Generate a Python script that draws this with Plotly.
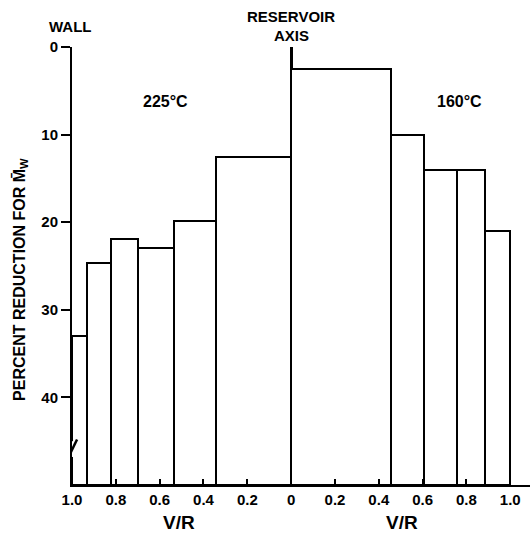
import plotly.graph_objects as go

# Data (V/R bin edges and percent reduction for Mw)
left_edges = [1.0, 0.933, 0.824, 0.697, 0.533, 0.344, 0.0]   # 225 °C side (toward wall)
left_values = [33.0, 24.7, 21.9, 22.9, 19.9, 12.5]
right_edges = [0.0, 0.455, 0.604, 0.757, 0.886, 1.0]         # 160 °C side
right_values = [2.5, 10.0, 14.0, 14.0, 21.0]

tick_vals = [-1.0, -0.8, -0.6, -0.4, -0.2, 0.0, 0.2, 0.4, 0.6, 0.8, 1.0]
tick_text = ["1.0", "0.8", "0.6", "0.4", "0.2", "0", "0.2", "0.4", "0.6", "0.8", "1.0"]
y_ticks = [0, 10, 20, 30, 40]
Y_BOTTOM = 50

FONT = "Liberation Sans"


def bars_from_edges(edges, values, sign):
    xs, ws = [], []
    for a, b in zip(edges[:-1], edges[1:]):
        xs.append(sign * (a + b) / 2)
        ws.append(abs(b - a))
    return xs, ws


lx, lw = bars_from_edges(left_edges, left_values, -1)
rx, rw = bars_from_edges(right_edges, right_values, 1)

fig = go.Figure()
for xs, ws, vals in [(lx, lw, left_values), (rx, rw, right_values)]:
    fig.add_trace(go.Bar(
        x=xs, width=ws, base=vals, y=[Y_BOTTOM - v for v in vals],
        marker=dict(color="white", line=dict(color="black", width=2)),
        showlegend=False, hoverinfo="skip",
    ))

fig.update_layout(
    width=532, height=535,
    margin=dict(l=72, r=2, t=47, b=50, autoexpand=False),
    paper_bgcolor="white", plot_bgcolor="white",
    font=dict(family=FONT, size=13, color="black", weight="bold"),
    xaxis=dict(
        range=[-1.0, 1.09], tickvals=tick_vals, ticktext=tick_text,
        ticks="inside", ticklen=6, tickwidth=2, tickcolor="black",
        showline=True, linecolor="black", linewidth=2, automargin=False,
        showgrid=False, zeroline=True, zerolinecolor="black", zerolinewidth=3,
        tickfont=dict(family=FONT, size=15, weight="bold"),
    ),
    yaxis=dict(
        range=[Y_BOTTOM, 0], tickvals=y_ticks,
        ticks="outside", ticklen=9, tickwidth=2, tickcolor="black",
        showline=True, linecolor="black", linewidth=2, automargin=False,
        showgrid=False, zeroline=False,
        tickfont=dict(family=FONT, size=15, weight="bold"),
    ),
    bargap=0,
)

mid = dict(showarrow=False, xanchor="center", yanchor="middle")
ann = [
    dict(text="WALL", x=-0.004, y=1.046, xref="paper", yref="paper",
         font=dict(size=15), **mid),
    dict(text="RESERVOIR", x=0, y=1.069, xref="x", yref="paper",
         font=dict(size=15), **mid),
    dict(text="AXIS", x=0, y=1.027, xref="x", yref="paper",
         font=dict(size=15), **mid),
    dict(text="225°C", x=-0.575, y=6.2, xref="x", yref="y",
         font=dict(size=16), **mid),
    dict(text="160°C", x=0.767, y=6.2, xref="x", yref="y",
         font=dict(size=16), **mid),
    dict(text="V/R", x=-0.51, y=-0.085, xref="x", yref="paper",
         font=dict(size=19), **mid),
    dict(text="V/R", x=0.508, y=-0.085, xref="x", yref="paper",
         font=dict(size=19), **mid),
    dict(text="PERCENT REDUCTION FOR M\u0304<sub>W</sub>", x=-0.114, y=0.47,
         xref="paper", yref="paper", textangle=-90,
         font=dict(size=16), **mid),
]
fig.update_layout(annotations=ann)

# axis break mark on the y axis
fig.add_shape(type="line", xref="x", yref="y", x0=-1.0, x1=-1.0, y0=45.0, y1=46.8,
              line=dict(color="white", width=5))
fig.add_shape(type="line", xref="x", yref="y", x0=-0.977, x1=-1.023, y0=44.8, y1=47.2,
              line=dict(color="black", width=2.5))

fig.write_html(
    "out.html",
    config={"displayModeBar": False},
    post_script="document.body.style.margin='0';document.body.style.overflow='hidden';",
)
